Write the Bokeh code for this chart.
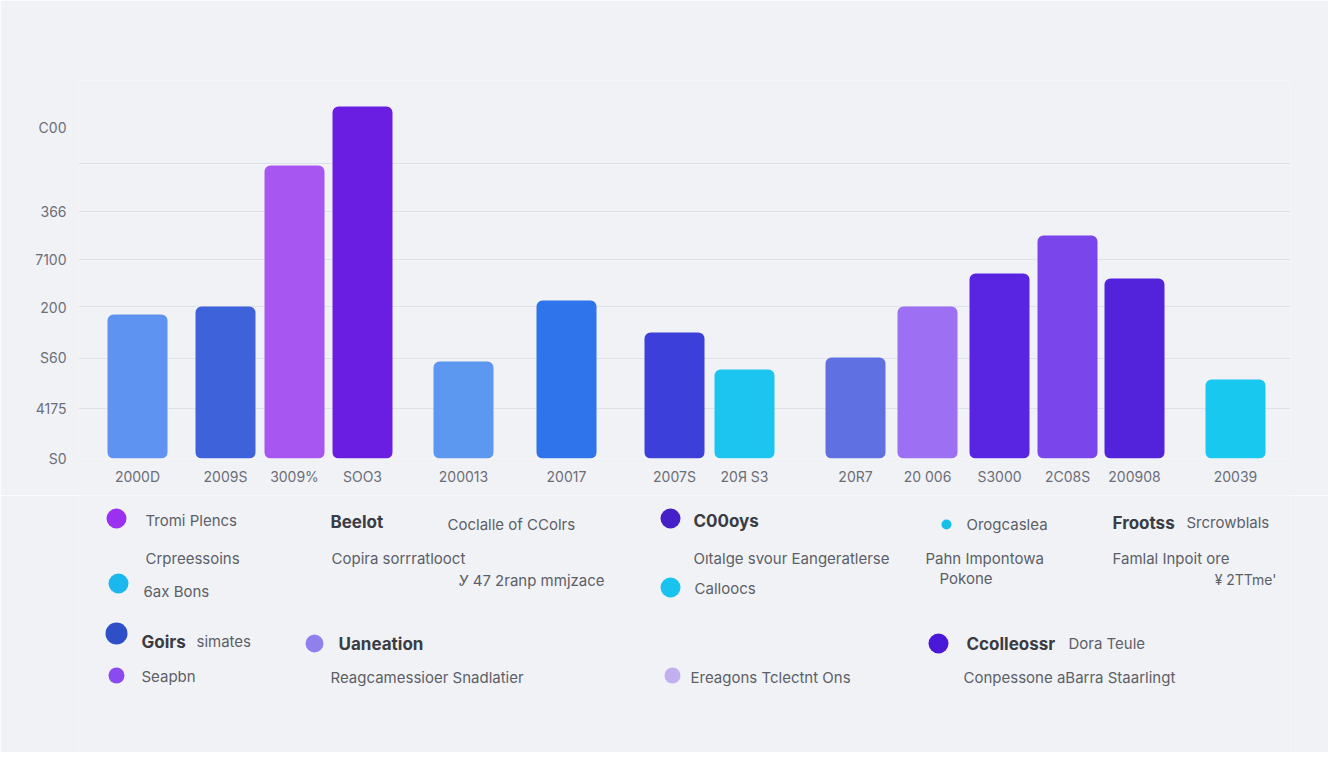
from bokeh.plotting import figure
from bokeh.models import Range1d, FixedTicker, ColumnDataSource
from bokeh.layouts import column
from bokeh.embed import file_html
from bokeh.resources import INLINE
from bokeh.core.properties import value

# ---------------- data ----------------
x_pos = [137, 225, 294, 362, 463, 566, 674, 744, 855, 927, 999, 1067, 1134, 1235]
x_labels = ["2000D", "2009S", "3009%", "SOO3", "200013", "20017", "2007S",
            "20Я S3", "20R7", "20 006", "S3000", "2C08S", "200908", "20039"]
values = [144, 152, 293, 352, 97, 158, 126, 89, 101, 152, 185, 223, 180, 79]
bar_colors = ["#5e93f2", "#3e62d9", "#a856f1", "#6a1ee2", "#5d98f0", "#2f74eb", "#3c3fd9",
              "#1bc5ef", "#5f70e2", "#9d70f3", "#5a25e2", "#7a46eb", "#5223da", "#19c8ef"]

y_tick_values = [0, 50, 101, 151, 199, 247, 331]
y_tick_labels = ["S0", "4175", "S60", "200", "7100", "366", "C00"]
y_grid_values = [0, 50, 100, 152, 199, 247, 295]

legend_dot_colors = ["#9b30f0", "#1ab8ee", "#2f4fc8", "#8a4af0", "#9080ee",
                     "#4520c8", "#1ac3ee", "#c0b0f0", "#18c0e8", "#4a18d8"]
legend_bold = ["Beelot", "Goirs", "Uaneation", "C00oys", "Frootss", "Ccolleossr"]
legend_text = ["Tromi Plencs", "Crpreessoins", "6ax Bons", "simates", "Seapbn",
               "Coclalle of CColrs", "Copira sorrratlooct", "Ꭹ  47 2ranp mmjzace",
               "Reagcamessioer Snadlatier", "Oıtalge svour Eangeratlerse", "Calloocs",
               "Ereagons Tclectnt Ons", "Orogcaslea", "Pahn Impontowa", "Pokone",
               "Srcrowblals", "Famlal Inpoit ore", "Dora Teule",
               "Conpessone aBarra Staarlingt"]
legend_right_text = ["¥ 2TTme'"]

# ---------------- layout / style ----------------
BG = "#f1f2f6"
FONT = "Inter"
W = 1328
LEFT, RIGHT = 78, 38

p = figure(width=W, height=495, output_backend="svg", toolbar_location=None,
           x_range=Range1d(LEFT, W - RIGHT), y_range=Range1d(0, 378),
           min_border_left=LEFT, min_border_right=RIGHT, min_border_top=80,
           min_border_bottom=37, background_fill_color=BG, border_fill_color=BG,
           outline_line_color=None)

src = ColumnDataSource(dict(x=x_pos, top=values, color=bar_colors))
p.vbar(x="x", top="top", bottom=0, width=60, color="color", source=src,
       line_color=None, border_radius=6)

p.xaxis.ticker = FixedTicker(ticks=x_pos)
p.xaxis.major_label_overrides = {x: l for x, l in zip(x_pos, x_labels)}
p.yaxis.ticker = FixedTicker(ticks=y_tick_values)
p.yaxis.major_label_overrides = {v: l for v, l in zip(y_tick_values, y_tick_labels)}
for ax in (p.xaxis, p.yaxis):
    ax.axis_line_color = None
    ax.major_tick_line_color = None
    ax.minor_tick_line_color = None
    ax.major_label_text_color = "#6b6e78"
    ax.major_label_text_font = FONT
    ax.major_label_text_font_size = "14px"
p.xaxis.major_label_standoff = 3
p.yaxis.major_label_standoff = 6
p.xgrid.grid_line_color = None
p.ygrid.ticker = FixedTicker(ticks=y_grid_values)
p.ygrid.grid_line_color = "#dfe1ea"
p.ygrid.grid_line_width = 1

# legend area (coordinates = page pixels)
q = figure(width=W, height=257, output_backend="svg", toolbar_location=None,
           x_range=Range1d(LEFT, W - RIGHT), y_range=Range1d(752, 495),
           min_border_left=LEFT, min_border_right=RIGHT, min_border_top=0,
           min_border_bottom=0, background_fill_color=BG, border_fill_color=BG,
           outline_line_color=None)
q.axis.visible = False
q.grid.visible = False

dot_x = [116, 118, 116, 116, 314, 670, 670, 672, 946, 938]
dot_y = [518, 583, 633, 675, 643, 518, 587, 675, 524, 643]
dot_r = [10, 10, 11, 8, 9, 10, 10, 8, 5, 10]
q.scatter(dot_x, dot_y, size=[r * 2 for r in dot_r], color=legend_dot_colors, line_color=None)

bold_x = [330, 141, 338, 693, 1112, 966]
bold_y = [521, 641, 643, 520, 522, 643]
q.text(bold_x, bold_y, text=legend_bold, text_font=value(FONT), text_font_style="bold",
       text_font_size="17px", text_color="#3a3c44", text_baseline="middle")

txt_x = [145, 145, 143, 196, 141, 447, 331, 458, 330, 693, 694, 690, 966, 925, 939,
         1186, 1112, 1068, 963]
txt_y = [520, 558, 591, 641, 676, 524, 558, 580, 677, 558, 588, 677, 524, 558, 578,
         522, 558, 643, 677]
q.text(txt_x, txt_y, text=legend_text, text_font=value(FONT), text_font_size="15px",
       text_color="#5c5f68", text_baseline="middle")
q.text([1276], [579], text=legend_right_text, text_font=value(FONT), text_font_size="14px",
       text_color="#5c5f68", text_baseline="middle", text_align="right")

layout = column(p, q, spacing=0)
open("out.html", "w").write(file_html(layout, INLINE))
